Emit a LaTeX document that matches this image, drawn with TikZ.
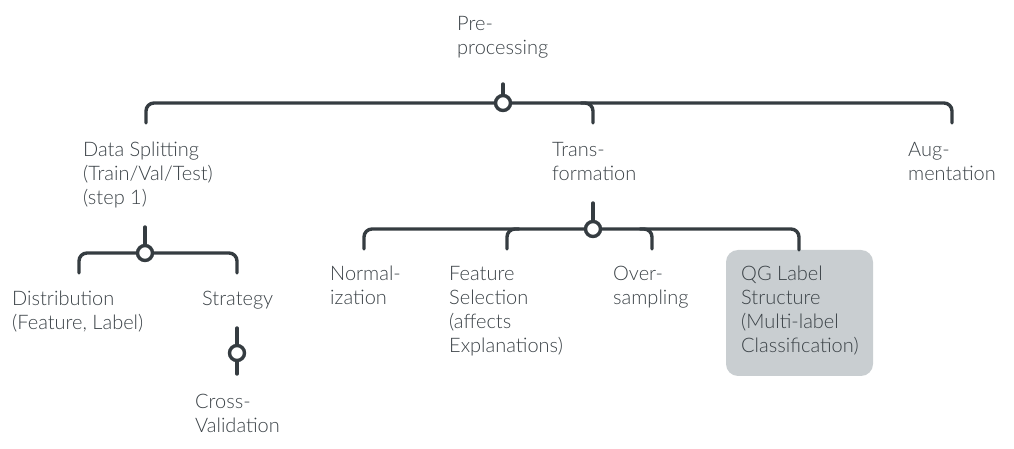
\documentclass[tikz,border=0pt]{standalone}
\usepackage{fontspec}
\setmainfont{Lato Light}
\definecolor{linec}{HTML}{353C41}
\definecolor{textc}{HTML}{3A4146}
\definecolor{boxc}{HTML}{C9CED1}
\begin{document}
\begin{tikzpicture}[x=1bp,y=-1bp,
  lbl/.style={anchor=base west,inner sep=0pt,align=left,text=textc,
    font=\fontsize{20bp}{24bp}\selectfont},
  conn/.style={draw=linec,line width=3.4bp,line cap=round,rounded corners=8bp},
  junc/.style={circle,draw=linec,fill=white,line width=3.4bp,minimum size=15bp,inner sep=0pt},
  hl/.style={fill=boxc,rounded corners=12bp}]
\useasboundingbox (0,0) rectangle (1014,449);
% text nodes (anchored at the baseline of the last line)
\node[lbl] (pre) at (457,55) {Pre-\\processing};
\node[lbl] (split) at (83,205) {Data Splitting\\(Train/Val/Test)\\(step 1)};
\node[lbl] (trans) at (552,181) {Trans-\\formation};
\node[lbl] (aug) at (908,181) {Aug-\\mentation};
\node[lbl] (dist) at (12,330) {Distribution\\(Feature, Label)};
\node[lbl] (strat) at (202,306) {Strategy};
\node[lbl] (cv) at (195,432) {Cross-\\Validation};
\node[lbl] (norm) at (330,305) {Normal-\\ization};
\node[lbl] (fs) at (449,353) {Feature\\Selection\\(affects\\Explanations)};
\node[lbl] (over) at (613,305) {Over-\\sampling};
\fill[hl] (726,250) rectangle (873,376);
\node[lbl] (qg) at (741,353) {QG Label\\Structure\\(Multi-label\\Classification)};
% junctions
\node[junc] (j0) at (503,103) {};
\node[junc] (j1) at (145,253) {};
\node[junc] (j2) at (237,353) {};
\node[junc] (j3) at (593,229) {};
% coordinates
\coordinate (s0) at (503,84);
\coordinate (d0a) at (146,123);
\coordinate (d0b) at (593,123);
\coordinate (d0bs) at (581,103);
\coordinate (d0c) at (952,123);
\coordinate (s1) at (145,227);
\coordinate (d1a) at (79,273);
\coordinate (d1b) at (237,273);
\coordinate (s2) at (237,328);
\coordinate (d2) at (237,374);
\coordinate (s3) at (593,203);
\coordinate (d3a) at (364,249);
\coordinate (d3b) at (507,249);
\coordinate (d3bs) at (519,229);
\coordinate (d3c) at (652,249);
\coordinate (d3cs) at (640,229);
\coordinate (d3d) at (799,250);
% connectors
\draw[conn] (s0) -- (j0.north);
\draw[conn] (j0.west) -| (d0a);
\draw[conn] (j0.east) -| (d0c);
\draw[conn] (d0bs) -| (d0b);
\draw[conn] (s1) -- (j1.north);
\draw[conn] (j1.west) -| (d1a);
\draw[conn] (j1.east) -| (d1b);
\draw[conn] (s2) -- (j2.north);
\draw[conn] (j2.south) -- (d2);
\draw[conn] (s3) -- (j3.north);
\draw[conn] (j3.west) -| (d3a);
\draw[conn] (j3.east) -| (d3d);
\draw[conn] (d3bs) -| (d3b);
\draw[conn] (d3cs) -| (d3c);
\end{tikzpicture}
\end{document}
